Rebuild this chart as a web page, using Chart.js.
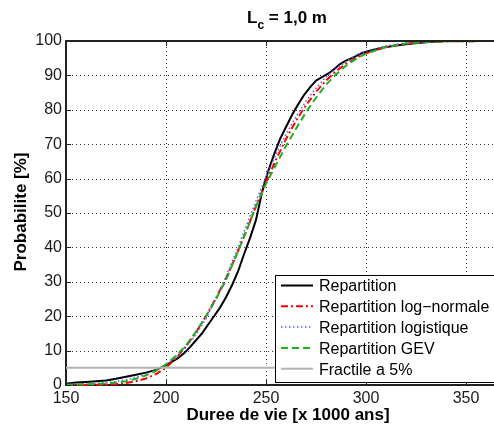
<!DOCTYPE html>
<html><head><meta charset="utf-8">
<script src="https://cdn.jsdelivr.net/npm/chart.js@4/dist/chart.umd.min.js"></script>
<style>html,body{margin:0;padding:0;background:#fff;overflow:hidden}</style>
</head><body>
<canvas id="c" width="494" height="428" style="display:block;width:494px;height:428px"></canvas>
<script>
// ---- data ----
const xTicks = [150, 200, 250, 300, 350];
const yTicks = [0, 10, 20, 30, 40, 50, 60, 70, 80, 90, 100];

const repX = [150,155,160,165,170,175,180,185,190,195,198,200,203,206,209,212,215,218,221,224,227,230,233,236,239,242,245,248,251,254,257,260,263,266,269,272,275,278,281,284,287,290,294,298,303,308,315,322,330,337,342,364];
const repY = [0.4,0.7,0.9,1.1,1.3,1.8,2.4,3.0,3.6,4.4,5.2,5.7,6.8,7.8,9.2,11,13,15,17.5,20,22.5,25.5,29,33,38,42.7,48,56,62,67,71.5,75,78.5,81.5,84.3,86.5,88.5,89.5,90.5,91.8,93.3,94.3,95.3,96.5,97.3,98,98.7,99.2,99.6,99.9,100,100];

const fitX = [150,160,170,175,180,185,190,195,200,205,210,215,220,225,230,235,240,245,250,255,260,265,270,275,280,285,290,295,300,310,320,330,340,364];
const logNormY = [0,0.02,0.1,0.3,0.6,1.1,1.9,3.2,5.0,7.8,11.2,15.3,20,25.3,31,37.5,44.5,52,59,65.5,71.5,76.8,81.3,85.2,88.5,91.2,93.4,95.1,96.4,98.2,99.2,99.7,99.9,100];
const logisY  = [0.1,0.3,0.7,1.0,1.5,2.2,3.2,4.4,6.0,8.0,11,14.7,19.3,25,31.5,38.5,46,53.5,60.5,67,73,78,82.5,86.3,89.5,92,94,95.9,97.1,98.6,99.4,99.8,99.95,100];
const gevY    = [0.1,0.2,0.4,0.7,1.1,1.8,2.8,4.1,6.0,8.5,11.5,15.5,20,25,30.5,37.5,44.5,52,58.5,64,69.5,74.5,79.3,83.5,87.3,90.3,92.8,94.8,96.3,98.3,99.3,99.7,99.9,100];

const fracX = [150, 364];
const fracY = [5, 5];

const seriesNames = ['Repartition', 'Repartition log\u2212normale', 'Repartition logistique', 'Repartition GEV', 'Fractile a 5%'];

const pts = (xs, ys) => xs.map((x, i) => ({x: x, y: ys[i]}));

const FONT = '"Liberation Sans", Arial, Helvetica, sans-serif';

const styles = [
  {color: '#000000', width: 2, dash: []},
  {color: '#ff0000', width: 2, dash: [7, 3, 2, 3]},
  {color: '#5a5aff', width: 1.5, dash: [1.5, 2.5]},
  {color: '#1fb01f', width: 2, dash: [7, 4]},
  {color: '#b4b4b4', width: 2, dash: []}
];

function ds(label, data, st, order) {
  return {label, data, showLine: true, pointRadius: 0, pointHoverRadius: 0,
    borderColor: st.color, borderWidth: st.width, borderDash: st.dash,
    backgroundColor: st.color, fill: false, tension: 0, order: order, clip: 3};
}

function drawDotGrid(chart) {
  const ctx = chart.ctx, a = chart.chartArea;
  const xs = chart.scales.x, ys = chart.scales.y;
  ctx.save();
  ctx.fillStyle = '#333333';
  xTicks.forEach(v => {
    const px = Math.round(xs.getPixelForValue(v));
    if (px <= a.left + 1) return;
    for (let y = a.top + 2; y < a.bottom; y += 4) ctx.fillRect(px, y, 1, 1);
  });
  yTicks.forEach(v => {
    const py = Math.round(ys.getPixelForValue(v));
    if (py >= a.bottom - 1 || py <= a.top + 1) return;
    for (let x = a.left + 2; x < a.right; x += 4) ctx.fillRect(x, py, 1, 1);
  });
  ctx.restore();
}

const gridPlugin = {
  id: 'dotgrid',
  beforeDatasetsDraw(chart) { drawDotGrid(chart); }
};

const decor = {
  id: 'decor',
  afterDraw(chart) {
    const ctx = chart.ctx;
    const a = chart.chartArea;
    const xs = chart.scales.x, ys = chart.scales.y;
    ctx.save();
    // top border
    ctx.strokeStyle = '#222'; ctx.lineWidth = 2;
    ctx.beginPath(); ctx.moveTo(a.left, a.top); ctx.lineTo(a.right, a.top); ctx.stroke();
    // inward ticks
    ctx.lineWidth = 1;
    ctx.beginPath();
    xTicks.forEach(v => {
      const px = Math.round(xs.getPixelForValue(v)) + 0.5;
      ctx.moveTo(px, a.bottom); ctx.lineTo(px, a.bottom - 5);
      ctx.moveTo(px, a.top); ctx.lineTo(px, a.top + 5);
    });
    yTicks.forEach(v => {
      const py = Math.round(ys.getPixelForValue(v)) + 0.5;
      ctx.moveTo(a.left, py); ctx.lineTo(a.left + 5, py);
    });
    ctx.stroke();

    // title  L_c = 1,0 m
    ctx.fillStyle = '#000';
    ctx.textBaseline = 'alphabetic';
    const big = 'bold 17px ' + FONT, small = 'bold 12px ' + FONT;
    ctx.font = big; const w1 = ctx.measureText('L').width; const w3 = ctx.measureText(' = 1,0 m').width;
    ctx.font = small; const w2 = ctx.measureText('c').width;
    let tx = 287 - (w1 + w2 + w3) / 2;
    ctx.textAlign = 'left';
    ctx.font = big; ctx.fillText('L', tx, 23); tx += w1;
    ctx.font = small; ctx.fillText('c', tx, 29); tx += w2;
    ctx.font = big; ctx.fillText(' = 1,0 m', tx, 23);

    // axis titles
    ctx.font = 'bold 17px ' + FONT;
    ctx.textAlign = 'center'; ctx.textBaseline = 'middle';
    ctx.fillText('Duree de vie [x 1000 ans]', 288, 415);
    ctx.save();
    ctx.translate(21, 212); ctx.rotate(-Math.PI / 2);
    ctx.fillText('Probabilite [%]', 0, 0);
    ctx.restore();

    // legend
    const lx = 275.5, ly = 275.5, lb = 382.5;
    ctx.fillStyle = '#fff';
    ctx.fillRect(lx, ly, 260, lb - ly);
    ctx.strokeStyle = '#000'; ctx.lineWidth = 1; ctx.setLineDash([]);
    ctx.strokeRect(lx, ly, 260, lb - ly);
    ctx.font = '16px ' + FONT; ctx.textAlign = 'left'; ctx.textBaseline = 'middle';
    seriesNames.forEach((name, i) => {
      const cy = 287 + 20.8 * i;
      const st = styles[i];
      ctx.save();
      ctx.strokeStyle = st.color; ctx.lineWidth = st.width; ctx.setLineDash(st.dash);
      ctx.beginPath(); ctx.moveTo(281, cy - 1.5); ctx.lineTo(313, cy - 1.5); ctx.stroke();
      ctx.restore();
      ctx.fillStyle = '#000';
      ctx.fillText(name, 319, cy);
    });
    ctx.restore();
  }
};

new Chart(document.getElementById('c'), {
  type: 'scatter',
  data: {
    datasets: [
      ds(seriesNames[0], pts(repX, repY), styles[0], 5),
      ds(seriesNames[1], pts(fitX, logNormY), styles[1], 4),
      ds(seriesNames[2], pts(fitX, logisY), styles[2], 3),
      ds(seriesNames[3], pts(fitX, gevY), styles[3], 2),
      ds(seriesNames[4], pts(fracX, fracY), styles[4], 1)
    ]
  },
  options: {
    responsive: false, animation: false, devicePixelRatio: 1,
    layout: {padding: {top: 41, left: 0, right: 0, bottom: 0}},
    plugins: {legend: {display: false}, tooltip: {enabled: false}, title: {display: false}},
    scales: {
      x: {
        type: 'linear', min: 150, max: 364,
        afterFit: s => { s.height = 43; },
        afterBuildTicks: s => { s.ticks = xTicks.map(v => ({value: v})); },
        grid: {display: false, drawTicks: false},
        border: {display: true, color: '#222', width: 2},
        ticks: {color: '#1a1a1a', font: {family: FONT, size: 16}, padding: 4, maxRotation: 0, autoSkip: false}
      },
      y: {
        type: 'linear', min: 0, max: 100,
        afterFit: s => { s.width = 66; },
        afterBuildTicks: s => { s.ticks = yTicks.map(v => ({value: v})); },
        grid: {display: false, drawTicks: false},
        border: {display: true, color: '#222', width: 2},
        ticks: {color: '#1a1a1a', font: {family: FONT, size: 16}, padding: 4, autoSkip: false}
      }
    }
  },
  plugins: [gridPlugin, decor]
});
</script>
</body></html>
